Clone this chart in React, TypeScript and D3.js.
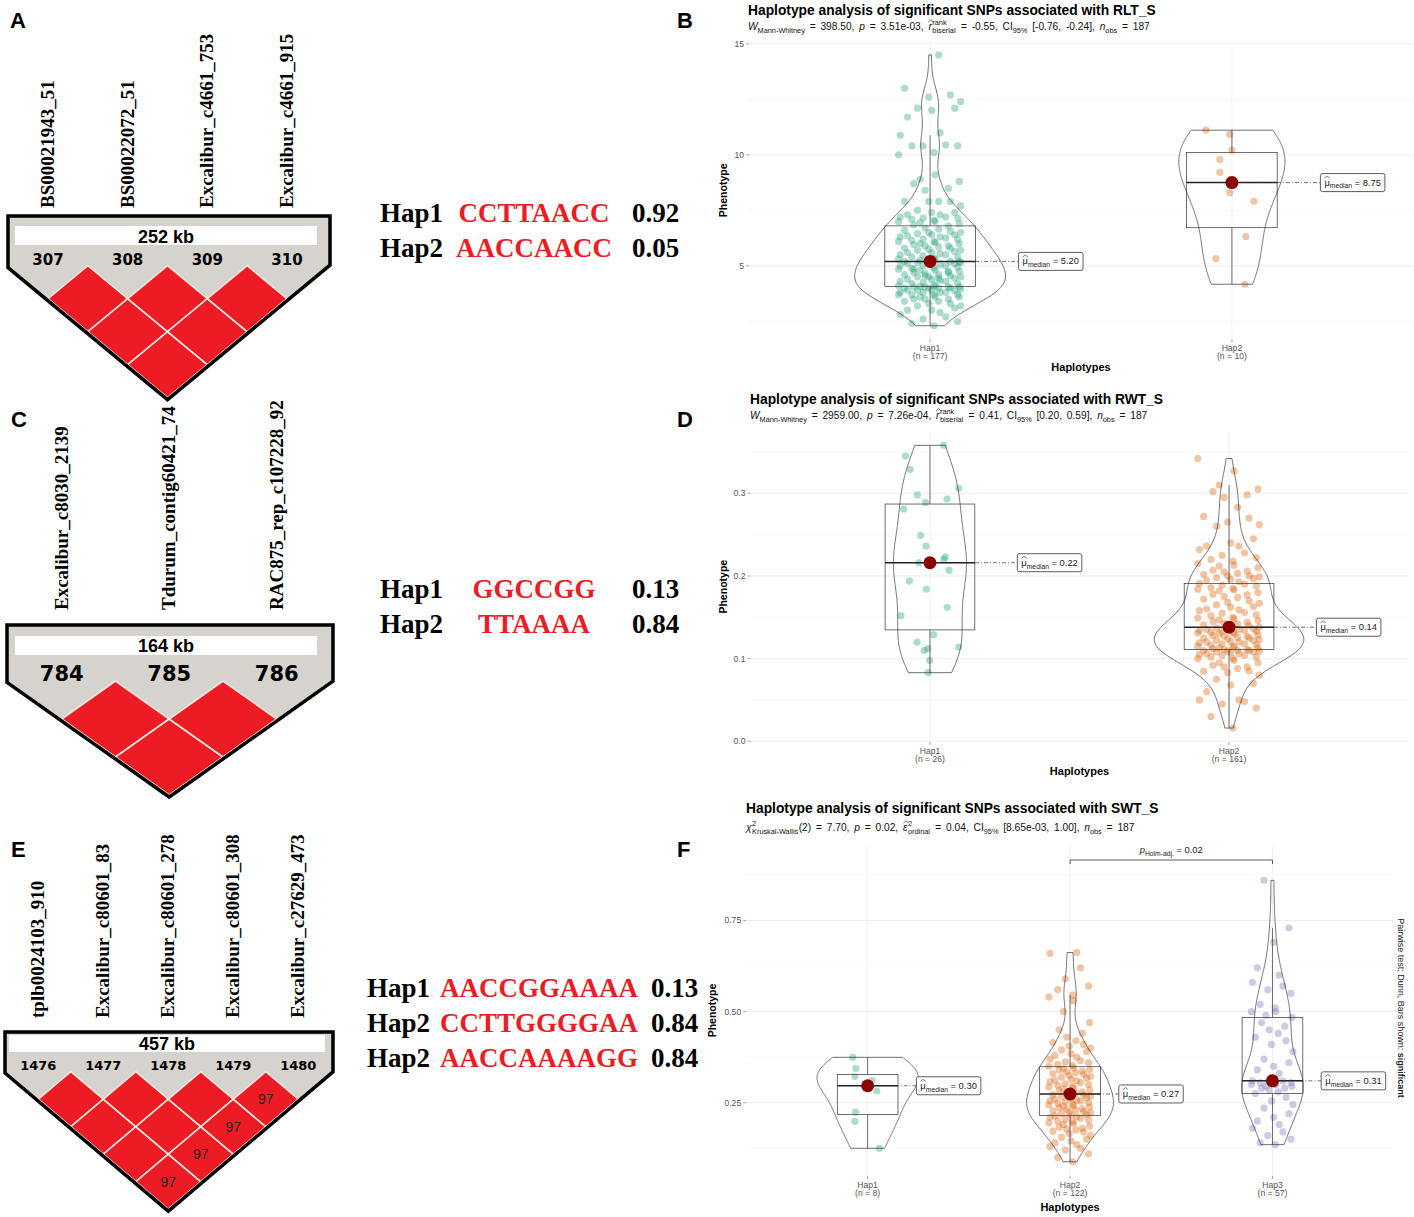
import React from "react";
import * as d3 from "d3";

const SANS = '"Liberation Sans", Arial, sans-serif';
const SERIF = '"Liberation Serif", "Times New Roman", serif';
const DARK2 = ["#1B9E77", "#D95F02", "#7570B3"];

// ---------------- LD block data ----------------
const ldANames = ["BS00021943_51", "BS00022072_51", "Excalibur_c4661_753", "Excalibur_c4661_915"];
const ldAIds = ["307", "308", "309", "310"];
const ldASpan = "252 kb";
const ldCNames = ["Excalibur_c8030_2139", "Tdurum_contig60421_74", "RAC875_rep_c107228_92"];
const ldCIds = ["784", "785", "786"];
const ldCSpan = "164 kb";
const ldENames = ["tplb0024103_910", "Excalibur_c80601_83", "Excalibur_c80601_278", "Excalibur_c80601_308", "Excalibur_c27629_473"];
const ldEIds = ["1476", "1477", "1478", "1479", "1480"];
const ldESpan = "457 kb";
const ldEDprime: [number, number, number][] = [[3, 4, 97], [2, 4, 97], [1, 4, 97], [0, 4, 97]];

// ---------------- Haplotype tables ----------------
const hapANames = ["Hap1", "Hap2"];
const hapASeqs = ["CCTTAACC", "AACCAACC"];
const hapAFreqs = ["0.92", "0.05"];
const hapCNames = ["Hap1", "Hap2"];
const hapCSeqs = ["GGCCGG", "TTAAAA"];
const hapCFreqs = ["0.13", "0.84"];
const hapENames = ["Hap1", "Hap2", "Hap2"];
const hapESeqs = ["AACCGGAAAA", "CCTTGGGGAA", "AACCAAAAGG"];
const hapEFreqs = ["0.13", "0.84", "0.84"];

// ---------------- Phenotype data ----------------
const rltHap1 = [
  2.3, 2.4, 2.5, 2.6, 2.7, 2.8, 2.9, 3.0, 3.0, 3.1, 3.2, 3.2, 3.3, 3.3, 3.4, 3.4, 3.5, 3.5, 3.5, 3.6, 3.6, 3.6,
  3.7, 3.7, 3.7, 3.7, 3.8, 3.8, 3.8, 3.8, 3.9, 3.9, 3.9, 3.9, 3.95, 4.0, 4.0, 4.0, 4.0, 4.05, 4.05, 4.05, 4.06, 4.07,
  4.07, 4.1, 4.15, 4.2, 4.2, 4.25, 4.3, 4.3, 4.35, 4.4, 4.4, 4.45, 4.5, 4.5, 4.5, 4.55, 4.6, 4.6, 4.65, 4.7, 4.7, 4.75,
  4.8, 4.8, 4.85, 4.9, 4.9, 4.95, 5.0, 5.0, 5.0, 5.05, 5.1, 5.1, 5.1, 5.15, 5.15, 5.2, 5.2, 5.2, 4.45, 4.55, 4.75, 4.85,
  5.2,
  5.25, 5.3, 5.3, 5.35, 5.4, 5.4, 5.45, 5.5, 5.5, 5.55, 5.6, 5.6, 5.65, 5.7, 5.7, 5.75, 5.8, 5.8, 5.85, 5.9, 5.9, 5.95,
  6.0, 6.0, 6.05, 6.1, 6.1, 6.15, 6.2, 6.2, 6.25, 6.3, 6.3, 6.35, 6.4, 6.4, 6.45, 6.5, 6.5, 6.55, 6.6, 6.65, 6.7, 6.8,
  6.85, 6.9, 6.95, 7.0, 7.0, 7.05, 7.1, 7.15, 7.15, 7.2, 7.2, 7.3, 7.3, 7.4, 7.4, 7.5, 7.7, 7.9, 7.9, 7.9, 7.9, 8.4,
  8.5, 8.7, 8.8, 8.9, 9.1, 10.0, 10.1, 10.4, 10.4, 10.4, 10.45, 10.88, 11.0, 11.7, 12.0, 12.1, 12.1, 12.4, 12.6, 12.7, 13.0, 14.5,
];
const rltHap2 = [11.11, 10.92, 10.21, 9.79, 9.21, 8.29, 7.91, 6.32, 5.33, 4.17];
const rltHap2Jitter = [-0.086, -0.007, 0, -0.04, -0.04, -0.007, 0.073, 0.046, -0.053, 0.043];

const rwtHap1 = [0.358, 0.345, 0.329, 0.306, 0.298, 0.293, 0.289, 0.281, 0.249, 0.236, 0.223, 0.22, 0.216, 0.216, 0.207, 0.194, 0.184, 0.162, 0.152, 0.129, 0.12, 0.114, 0.112, 0.11, 0.098, 0.083];
const rwtHap1Jitter = [0.046, -0.082, -0.066, 0.096, -0.042, 0.057, -0.015, -0.088, -0.031, -0.013, 0.051, 0.046, -0.037, 0, 0.064, -0.069, -0.012, 0.058, -0.097, 0.012, -0.043, 0.096, -0.007, -0.019, -0.001, -0.006];
const rwtHap2 = [
  0.016, 0.03, 0.04, 0.045, 0.048, 0.05, 0.05, 0.06, 0.068, 0.07,
  0.075, 0.08, 0.083, 0.085, 0.085, 0.088, 0.09, 0.09, 0.092, 0.095,
  0.095, 0.098, 0.1, 0.1, 0.102, 0.102, 0.104, 0.104, 0.105, 0.106,
  0.106, 0.107, 0.108, 0.108, 0.109, 0.109, 0.11, 0.11, 0.11, 0.111,
  0.111,
  0.112, 0.113, 0.113, 0.114, 0.115, 0.115, 0.116, 0.117, 0.118, 0.118,
  0.119, 0.12, 0.12, 0.121, 0.122, 0.122, 0.123, 0.124, 0.125, 0.125,
  0.126, 0.127, 0.127, 0.128, 0.129, 0.13, 0.13, 0.131, 0.132, 0.132,
  0.133, 0.133, 0.134, 0.134, 0.135, 0.135, 0.136, 0.136, 0.137,
  0.138,
  0.139, 0.14, 0.141, 0.142, 0.143, 0.144, 0.145, 0.146, 0.147, 0.148,
  0.149, 0.15, 0.152, 0.153, 0.155, 0.156, 0.158, 0.159, 0.16, 0.162,
  0.163, 0.165, 0.167, 0.168, 0.17, 0.172, 0.174, 0.175, 0.177, 0.178,
  0.18, 0.182, 0.183, 0.184, 0.185, 0.186, 0.188, 0.189, 0.19,
  0.191,
  0.193, 0.195, 0.196, 0.197, 0.198, 0.199, 0.2, 0.2, 0.202, 0.203,
  0.205, 0.206, 0.207, 0.21, 0.212, 0.213, 0.215, 0.218, 0.22, 0.222,
  0.225, 0.228, 0.232, 0.236, 0.236, 0.24, 0.245, 0.26, 0.262, 0.265,
  0.27, 0.272, 0.283, 0.295, 0.298, 0.302, 0.305, 0.31, 0.327, 0.342,
];

const swtHap1 = [0.3745, 0.344, 0.322, 0.311, 0.282, 0.224, 0.199, 0.125];
const swtHap1Jitter = [-0.074, -0.058, -0.063, 0.022, 0.045, -0.06, -0.063, 0.058];
const swtHap2 = [
  0.088, 0.1, 0.11, 0.12, 0.125, 0.13, 0.135, 0.14, 0.145, 0.15, 0.155, 0.16, 0.165, 0.17, 0.172, 0.175,
  0.178, 0.18, 0.183, 0.186, 0.19, 0.192, 0.195, 0.198, 0.2, 0.203, 0.205, 0.207, 0.21, 0.212, 0.214,
  0.216,
  0.218, 0.22, 0.222, 0.224, 0.226, 0.228, 0.23, 0.232, 0.234, 0.236, 0.238, 0.24, 0.242, 0.244, 0.246,
  0.248, 0.25, 0.252, 0.254, 0.256, 0.258, 0.26, 0.262, 0.264, 0.266, 0.268, 0.27, 0.271, 0.272,
  0.276,
  0.278, 0.28, 0.283, 0.285, 0.288, 0.29, 0.293, 0.295, 0.298, 0.3, 0.302, 0.305, 0.308, 0.31, 0.312,
  0.315, 0.318, 0.32, 0.322, 0.325, 0.328, 0.33, 0.332, 0.335, 0.337, 0.34, 0.341, 0.343, 0.345,
  0.35,
  0.352, 0.355, 0.36, 0.362, 0.365, 0.37, 0.375, 0.38, 0.385, 0.39, 0.395, 0.4, 0.405, 0.41, 0.415,
  0.42, 0.43, 0.44, 0.45, 0.47, 0.5, 0.53, 0.54, 0.545, 0.56, 0.57, 0.59, 0.62, 0.66, 0.662,
];
const swtHap3 = [
  0.135, 0.14, 0.15, 0.16, 0.17, 0.18, 0.19, 0.2, 0.21, 0.22, 0.235, 0.245, 0.255, 0.265,
  0.275,
  0.28, 0.285, 0.29, 0.29, 0.295, 0.295, 0.3, 0.3, 0.302, 0.305, 0.305, 0.308, 0.309,
  0.31,
  0.33, 0.34, 0.35, 0.36, 0.37, 0.39, 0.41, 0.42, 0.43, 0.44, 0.45, 0.46, 0.47,
  0.484,
  0.49, 0.5, 0.5, 0.51, 0.52, 0.55, 0.56, 0.57, 0.58, 0.6, 0.62, 0.69, 0.73, 0.86,
];

const jitterPattern = [0.12, -0.55, 0.83, -0.21, 0.47, -0.9, 0.3, -0.68, 0.05, 0.74, -0.38, 0.92, -0.04, 0.61, -0.77, 0.26, -0.15, 0.55, -0.49, 0.88, -0.3, 0.15, -0.95];

// ---------------- helpers ----------------
let _ctx: any = null;
function measure(t: string, size: number, it = false, b = false, fam = SANS) {
  if (!_ctx) _ctx = document.createElement("canvas").getContext("2d");
  _ctx.font = `${it ? "italic " : ""}${b ? "bold " : ""}${size}px ${fam}`;
  return _ctx.measureText(t).width;
}

type Seg = { t?: string; it?: boolean; b?: boolean; sub?: boolean; sup?: boolean; hat?: boolean; stack?: [string, string] };

function layoutRich(segs: Seg[], size: number, spaceExtra = 0, family = SANS) {
  const items: any[] = [];
  const hats: any[] = [];
  let cx = 0;
  for (const s of segs) {
    if (s.stack) {
      const fs = size * 0.72;
      const w1 = measure(s.stack[0], fs, false, false, family);
      const w2 = measure(s.stack[1], fs, false, false, family);
      items.push({ t: s.stack[0], x: cx + 0.5, dy: -size * 0.45, fs });
      items.push({ t: s.stack[1], x: cx + 0.5, dy: size * 0.3, fs });
      cx += Math.max(w1, w2) + 1;
    } else {
      const small = s.sub || s.sup;
      const fs = small ? size * 0.72 : size;
      const dy = s.sub ? size * 0.3 : s.sup ? -size * 0.45 : 0;
      const tokens = s.t!.split(/( )/).filter((k) => k.length);
      for (const tok of tokens) {
        if (tok === " ") {
          cx += measure(" ", fs, !!s.it, !!s.b, family) + (small ? 0 : spaceExtra);
        } else {
          const w = measure(tok, fs, !!s.it, !!s.b, family);
          items.push({ t: tok, x: cx, dy, fs, it: s.it, b: s.b });
          if (s.hat) hats.push({ x: cx + w / 2 + (s.it ? fs * 0.08 : 0), w: Math.max(w, fs * 0.5), top: dy - fs * 0.78 });
          cx += w;
        }
      }
    }
  }
  return { items, hats, width: cx };
}

function RichText({ x, y, segs, size, anchor = "start", fill = "#000", family = SANS, spaceExtra = 0 }: any) {
  const { items, hats, width } = layoutRich(segs, size, spaceExtra, family);
  const off = anchor === "middle" ? -width / 2 : anchor === "end" ? -width : 0;
  return (
    <g>
      {items.map((it: any, i: number) => (
        <text key={i} x={x + off + it.x} y={y + it.dy} fontSize={it.fs} fontStyle={it.it ? "italic" : undefined}
          fontWeight={it.b ? "bold" : undefined} fontFamily={family} fill={fill}>
          {it.t}
        </text>
      ))}
      {hats.map((h: any, i: number) => (
        <path key={"h" + i} d={`M${x + off + h.x - h.w / 2},${y + h.top}L${x + off + h.x},${y + h.top - size * 0.22}L${x + off + h.x + h.w / 2},${y + h.top}`}
          fill="none" stroke={fill} strokeWidth={0.6} />
      ))}
    </g>
  );
}

function kde(values: number[], nPts = 256) {
  const s = values.slice().sort(d3.ascending);
  const n = s.length;
  const sd = d3.deviation(s) as number;
  const iqr = (d3.quantileSorted(s, 0.75) as number) - (d3.quantileSorted(s, 0.25) as number);
  let lo = Math.min(sd, iqr / 1.34);
  if (!(lo > 0)) lo = sd || 1;
  const bw = 0.9 * lo * Math.pow(n, -0.2);
  const mn = s[0], mx = s[n - 1];
  return d3.range(nPts).map((i) => {
    const yv = mn + ((mx - mn) * i) / (nPts - 1);
    const d = d3.sum(s, (v) => Math.exp(-0.5 * ((yv - v) / bw) ** 2)) / (n * bw * Math.sqrt(2 * Math.PI));
    return [yv, d] as [number, number];
  });
}

// ---------------- LD block ----------------
function LDBlock({ cfg }: any) {
  const { names, ids, span, dprime, left, right, top, box, spanY, firstX, lastX, idY, idSize, diamondTop, hh, nameBase, nameSize } = cfg;
  const x = d3.scalePoint<string>().domain(ids).range([firstX, lastX]);
  const n = ids.length;
  const hw = ((x(ids[1]) as number) - (x(ids[0]) as number)) / 2;
  const cx = (firstX + lastX) / 2;
  const bottomY = diamondTop + n * hh + 2;
  const slope = hh / hw;
  const outer = [
    [left, top], [right, top], [right, bottomY - (right - cx) * slope], [cx, bottomY], [left, bottomY - (cx - left) * slope],
  ];
  const cells: any[] = [];
  for (let i = 0; i < n; i++)
    for (let j = i + 1; j < n; j++) {
      const ccx = ((x(ids[i]) as number) + (x(ids[j]) as number)) / 2;
      const ccy = diamondTop + (j - i) * hh;
      const dv = (dprime || []).find((d: any) => d[0] === i && d[1] === j);
      cells.push({ ccx, ccy, label: dv ? String(dv[2]) : null });
    }
  return (
    <g>
      {names.map((nm: string, i: number) => (
        <text key={nm} transform={`translate(${(x(ids[i]) as number) + 6},${nameBase}) rotate(-90)`} fontFamily={SERIF}
          fontWeight="bold" fontSize={nameSize} fill="#000">{nm}</text>
      ))}
      <polygon points={outer.map((p) => p.join(",")).join(" ")} fill="#d6d3ce" stroke="none" />
      <rect x={box[0]} y={box[1]} width={box[2] - box[0]} height={box[3] - box[1]} fill="#fff" />
      <text x={(box[0] + box[2]) / 2} y={spanY} textAnchor="middle" fontFamily={SANS} fontWeight="bold" fontSize={18}>{span}</text>
      {ids.map((id: string) => (
        <text key={id} x={x(id)} y={idY} textAnchor="middle" fontFamily='"DejaVu Sans", sans-serif' fontWeight="bold" fontSize={idSize}>{id}</text>
      ))}
      {cells.map((c, k) => (
        <g key={k}>
          <polygon points={`${c.ccx},${c.ccy - hh} ${c.ccx + hw},${c.ccy} ${c.ccx},${c.ccy + hh} ${c.ccx - hw},${c.ccy}`}
            fill="#ED1C24" stroke="#f3e6de" strokeWidth={1.6} />
          {c.label && (
            <text x={c.ccx} y={c.ccy + 5} textAnchor="middle" fontFamily={SANS} fontSize={14} fill="#222">{c.label}</text>
          )}
        </g>
      ))}
      <polygon points={outer.map((p) => p.join(",")).join(" ")} fill="none" stroke="#000" strokeWidth={3.5} strokeLinejoin="miter" />
    </g>
  );
}

function HapTable({ names, seqs, freqs, hapX, seqX, freqX, y0, gap }: any) {
  return (
    <g fontFamily={SERIF} fontWeight="bold" fontSize={27}>
      {names.map((nm: string, i: number) => (
        <g key={i}>
          <text x={hapX} y={y0 + i * gap} fill="#000">{nm}</text>
          <text x={seqX} y={y0 + i * gap} fill="#EC1C24" textAnchor="middle">{seqs[i]}</text>
          <text x={freqX} y={y0 + i * gap} fill="#000">{freqs[i]}</text>
        </g>
      ))}
    </g>
  );
}

// ---------------- Violin panel ----------------
function ViolinPanel({ cfg }: any) {
  const { groups, left, right, top, bottom, yDomain, ticks, minor, fmt, title, subtitle, titleX, titleY, subY, ytitleX, nudge, bracket, caption, xtitleDy } = cfg;
  const G = groups.length;
  const x = d3.scaleLinear().domain([0.4, G + 0.6]).range([left, right]);
  const unit = x(1) - x(0);
  const all = groups.flatMap((g: any) => g.values);
  let dom = yDomain;
  if (!dom) {
    const [mn, mx] = d3.extent(all) as [number, number];
    const pad = (mx - mn) * 0.05;
    dom = [mn - pad, mx + pad];
  }
  const y = d3.scaleLinear().domain(dom).range([bottom, top]);
  const dens = groups.map((g: any) => kde(g.values));
  const maxD = d3.max(dens.flat(), (d: any) => d[1]) as number;
  const stats = groups.map((g: any) => {
    const s = g.values.slice().sort(d3.ascending);
    const q1 = d3.quantileSorted(s, 0.25) as number;
    const med = d3.quantileSorted(s, 0.5) as number;
    const q3 = d3.quantileSorted(s, 0.75) as number;
    const iqr = q3 - q1;
    const upper = d3.max(s.filter((v: number) => v <= q3 + 1.5 * iqr)) as number;
    const lower = d3.min(s.filter((v: number) => v >= q1 - 1.5 * iqr)) as number;
    return { q1, med, q3, upper, lower };
  });
  const midX = (left + right) / 2;
  const midY = (top + bottom) / 2;
  const LBL = 9.4;
  return (
    <g>
      <text x={titleX} y={titleY} fontFamily={SANS} fontWeight="bold" fontSize={13.8} fill="#000">{title}</text>
      <RichText x={titleX} y={subY} segs={subtitle} size={10.2} fill="#111" spaceExtra={2} />
      {/* grid */}
      {minor.map((t: number) => (
        <line key={"m" + t} x1={left} x2={right} y1={y(t)} y2={y(t)} stroke="#f1f1f1" strokeWidth={0.6} />
      ))}
      {ticks.map((t: number) => (
        <line key={"t" + t} x1={left} x2={right} y1={y(t)} y2={y(t)} stroke="#e8e8e8" strokeWidth={0.8} />
      ))}
      {groups.map((g: any, i: number) => (
        <line key={"v" + i} x1={x(i + 1)} x2={x(i + 1)} y1={top} y2={bottom} stroke="#ededed" strokeWidth={0.8} />
      ))}
      {/* y axis */}
      {ticks.map((t: number) => (
        <g key={"yl" + t}>
          <line x1={left - 3} x2={left} y1={y(t)} y2={y(t)} stroke="#666" strokeWidth={0.6} />
          <text x={left - 5} y={y(t) + 3} textAnchor="end" fontFamily={SANS} fontSize={8.6} fill="#555">{fmt(t)}</text>
        </g>
      ))}
      <text transform={`translate(${ytitleX},${midY}) rotate(-90)`} textAnchor="middle" fontFamily={SANS} fontWeight="bold" fontSize={10.5}>Phenotype</text>
      {/* x axis */}
      {groups.map((g: any, i: number) => (
        <g key={"xl" + i}>
          <line x1={x(i + 1)} x2={x(i + 1)} y1={bottom} y2={bottom + 3} stroke="#666" strokeWidth={0.6} />
          <text x={x(i + 1)} y={bottom + 11.5} textAnchor="middle" fontFamily={SANS} fontSize={8.6} fill="#555">{g.name}</text>
          <text x={x(i + 1)} y={bottom + 19.5} textAnchor="middle" fontFamily={SANS} fontSize={8.6} fill="#555">{g.n}</text>
        </g>
      ))}
      <text x={midX} y={bottom + xtitleDy} textAnchor="middle" fontFamily={SANS} fontWeight="bold" fontSize={11}>Haplotypes</text>
      {/* points */}
      {groups.map((g: any, i: number) =>
        g.values.map((v: number, k: number) => {
          const j = g.jitter ? g.jitter[k] : jitterPattern[k % jitterPattern.length] * 0.11;
          return <circle key={i + "-" + k} cx={x(i + 1 + j)} cy={y(v)} r={3.6} fill={g.color} fillOpacity={0.36} />;
        })
      )}
      {/* violins */}
      {groups.map((g: any, i: number) => {
        const area = d3.area<[number, number]>()
          .y((d) => y(d[0]))
          .x0((d) => x(i + 1) - (d[1] / maxD) * 0.25 * unit)
          .x1((d) => x(i + 1) + (d[1] / maxD) * 0.25 * unit);
        return <path key={"vi" + i} d={area(dens[i]) as string} fill="none" stroke="#333" strokeWidth={0.7} />;
      })}
      {/* boxes */}
      {stats.map((s: any, i: number) => (
        <g key={"b" + i} stroke="#333" fill="none">
          <line x1={x(i + 1)} x2={x(i + 1)} y1={y(s.q3)} y2={y(s.upper)} strokeWidth={0.7} />
          <line x1={x(i + 1)} x2={x(i + 1)} y1={y(s.q1)} y2={y(s.lower)} strokeWidth={0.7} />
          <rect x={x(i + 1 - 0.15)} y={y(s.q3)} width={x(i + 1 + 0.15) - x(i + 1 - 0.15)} height={y(s.q1) - y(s.q3)} strokeWidth={0.7} />
          <line x1={x(i + 1 - 0.15)} x2={x(i + 1 + 0.15)} y1={y(s.med)} y2={y(s.med)} strokeWidth={1.5} stroke="#222" />
        </g>
      ))}
      {/* centrality */}
      {stats.map((s: any, i: number) => {
        const segs: Seg[] = [{ t: "μ", hat: true }, { t: "median", sub: true }, { t: " = " + d3.format(".2f")(s.med) }];
        const lw = layoutRich(segs, LBL).width;
        const lcx = x(i + 1 + nudge);
        const bx = lcx - lw / 2 - 4;
        const my = y(s.med);
        return (
          <g key={"c" + i}>
            <line x1={x(i + 1)} x2={bx} y1={my} y2={my} stroke="#333" strokeWidth={0.7} strokeDasharray="4,2,1,2" />
            <circle cx={x(i + 1)} cy={my} r={6.5} fill="#8B0000" />
            <rect x={bx} y={my - 9} width={lw + 8} height={18} rx={2} fill="#fff" stroke="#333" strokeWidth={0.8} />
            <RichText x={lcx} y={my + 3} segs={segs} size={LBL} anchor="middle" fill="#222" />
          </g>
        );
      })}
      {bracket && (
        <g>
          <path d={`M${x(bracket.from)},${bracket.y + 4}V${bracket.y}H${x(bracket.to)}V${bracket.y + 4}`} fill="none" stroke="#333" strokeWidth={0.8} />
          <RichText x={(x(bracket.from) + x(bracket.to)) / 2} y={bracket.y - 7} segs={bracket.segs} size={9.4} anchor="middle" fill="#222" />
        </g>
      )}
      {caption && (
        <g transform={`translate(${caption.x},${caption.y}) rotate(90)`}>
          <RichText x={0} y={0} segs={caption.segs} size={9} anchor="middle" fill="#222" />
        </g>
      )}
    </g>
  );
}

// ---------------- configs ----------------
const subB: Seg[] = [
  { t: "W", it: true }, { t: "Mann-Whitney", sub: true }, { t: " = 398.50, " }, { t: "p", it: true }, { t: " = 3.51e-03, " },
  { t: "r", it: true, hat: true }, { stack: ["rank", "biserial"] }, { t: " = -0.55, CI" }, { t: "95%", sub: true },
  { t: " [-0.76, -0.24], " }, { t: "n", it: true }, { t: "obs", sub: true }, { t: " = 187" },
];
const subD: Seg[] = [
  { t: "W", it: true }, { t: "Mann-Whitney", sub: true }, { t: " = 2959.00, " }, { t: "p", it: true }, { t: " = 7.26e-04, " },
  { t: "r", it: true, hat: true }, { stack: ["rank", "biserial"] }, { t: " = 0.41, CI" }, { t: "95%", sub: true },
  { t: " [0.20, 0.59], " }, { t: "n", it: true }, { t: "obs", sub: true }, { t: " = 187" },
];
const subF: Seg[] = [
  { t: "χ", it: true }, { stack: ["2", "Kruskal-Wallis"] }, { t: "(2) = 7.70, " }, { t: "p", it: true }, { t: " = 0.02, " },
  { t: "ε", it: true, hat: true }, { stack: ["2", "ordinal"] }, { t: " = 0.04, CI" }, { t: "95%", sub: true },
  { t: " [8.65e-03, 1.00], " }, { t: "n", it: true }, { t: "obs", sub: true }, { t: " = 187" },
];

const panelB = {
  title: "Haplotype analysis of significant SNPs associated with RLT_S", subtitle: subB, titleX: 748, titleY: 15, subY: 30,
  groups: [
    { name: "Hap1", n: "(n = 177)", values: rltHap1, color: DARK2[0] },
    { name: "Hap2", n: "(n = 10)", values: rltHap2, jitter: rltHap2Jitter, color: DARK2[1] },
  ],
  left: 749, right: 1413, top: 41.4, bottom: 339.3, ticks: [5, 10, 15], minor: [2.5, 7.5, 12.5], fmt: d3.format("d"),
  ytitleX: 727, nudge: 0.4, xtitleDy: 32,
};
const panelD = {
  title: "Haplotype analysis of significant SNPs associated with RWT_S", subtitle: subD, titleX: 750, titleY: 404, subY: 419,
  groups: [
    { name: "Hap1", n: "(n = 26)", values: rwtHap1, jitter: rwtHap1Jitter, color: DARK2[0] },
    { name: "Hap2", n: "(n = 161)", values: rwtHap2, color: DARK2[1] },
  ],
  left: 750.5, right: 1408.5, top: 431.2, bottom: 742.2, ticks: [0, 0.1, 0.2, 0.3], minor: [0.05, 0.15, 0.25, 0.35], fmt: d3.format(".1f"),
  ytitleX: 727, nudge: 0.4, xtitleDy: 33,
};
const panelF = {
  title: "Haplotype analysis of significant SNPs associated with SWT_S", subtitle: subF, titleX: 746, titleY: 813, subY: 831,
  groups: [
    { name: "Hap1", n: "(n = 8)", values: swtHap1, jitter: swtHap1Jitter, color: DARK2[0] },
    { name: "Hap2", n: "(n = 122)", values: swtHap2, color: DARK2[1] },
    { name: "Hap3", n: "(n = 57)", values: swtHap3, color: DARK2[2] },
  ],
  left: 746.2, right: 1393.9, top: 845, bottom: 1176, yDomain: [0.049, 0.957], ticks: [0.25, 0.5, 0.75], minor: [0.125, 0.375, 0.625, 0.875],
  fmt: d3.format(".2f"), ytitleX: 716, nudge: 0.4, xtitleDy: 35,
  bracket: { from: 2, to: 3, y: 860, segs: [{ t: "p", it: true }, { t: "Holm-adj.", sub: true }, { t: " = 0.02" }] },
  caption: { x: 1398, y: 1008, segs: [{ t: "Pairwise test: Dunn, Bars shown: " }, { t: "significant", b: true }] },
};

const ldA = {
  names: ldANames, ids: ldAIds, span: ldASpan, dprime: [], left: 8, right: 330, top: 216, box: [15, 226, 317, 245], spanY: 242.5,
  firstX: 48, lastX: 287, idY: 264.5, idSize: 15, diamondTop: 265.7, hh: 33, nameBase: 208, nameSize: 19,
};
const ldC = {
  names: ldCNames, ids: ldCIds, span: ldCSpan, dprime: [], left: 7, right: 333, top: 625, box: [15, 636, 317, 655], spanY: 651.5,
  firstX: 61.7, lastX: 276.7, idY: 680.5, idSize: 21, diamondTop: 681, hh: 38, nameBase: 610, nameSize: 19,
};
const ldE = {
  names: ldENames, ids: ldEIds, span: ldESpan, dprime: ldEDprime, left: 5, right: 333, top: 1032, box: [9, 1035, 325, 1052], spanY: 1049.5,
  firstX: 38.3, lastX: 298.3, idY: 1069.7, idSize: 13, diamondTop: 1071.7, hh: 27.5, nameBase: 1018, nameSize: 19,
};

const letters: [string, number, number][] = [["A", 10, 28], ["B", 677, 28], ["C", 11, 427], ["D", 677, 427], ["E", 11, 857], ["F", 677, 857]];

export default function App() {
  return (
    <svg width={1414} height={1217} style={{ position: "absolute", left: 0, top: 0 }}>
      <rect width={1414} height={1217} fill="#fff" />
      {letters.map(([l, lx, ly]) => (
        <text key={l} x={lx} y={ly} fontFamily={SANS} fontWeight="bold" fontSize={22}>{l}</text>
      ))}
      <LDBlock cfg={ldA} />
      <LDBlock cfg={ldC} />
      <LDBlock cfg={ldE} />
      <HapTable names={hapANames} seqs={hapASeqs} freqs={hapAFreqs} hapX={380} seqX={534} freqX={632} y0={222} gap={35} />
      <HapTable names={hapCNames} seqs={hapCSeqs} freqs={hapCFreqs} hapX={380} seqX={534} freqX={632} y0={598} gap={35} />
      <HapTable names={hapENames} seqs={hapESeqs} freqs={hapEFreqs} hapX={367} seqX={539} freqX={651} y0={997} gap={35} />
      <ViolinPanel cfg={panelB} />
      <ViolinPanel cfg={panelD} />
      <ViolinPanel cfg={panelF} />
    </svg>
  );
}
